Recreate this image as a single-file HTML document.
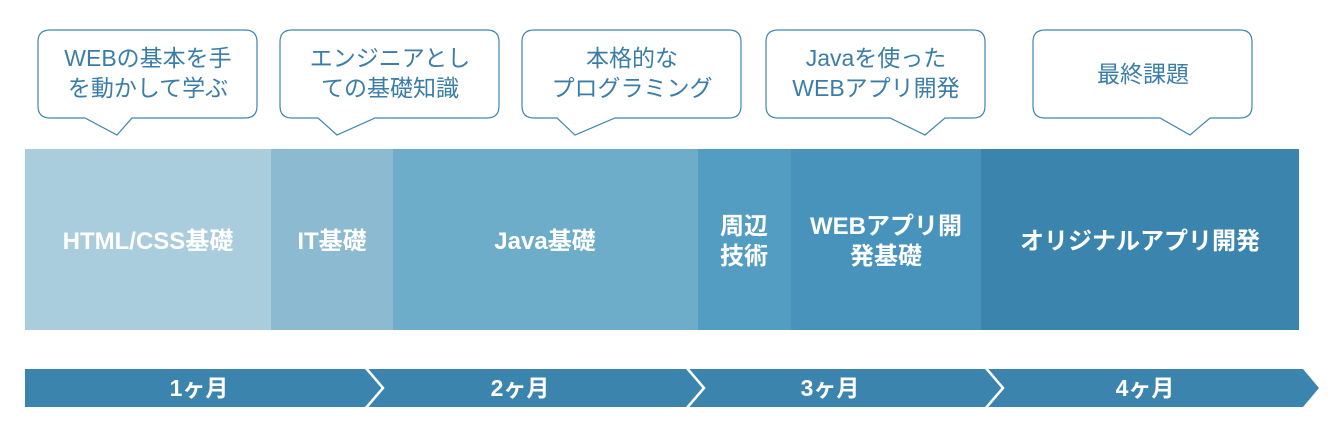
<!DOCTYPE html>
<html><head><meta charset="utf-8"><style>
body{margin:0;width:1340px;height:434px;background:#fff;overflow:hidden;font-family:"Liberation Sans","Noto Sans CJK JP",sans-serif;}
</style></head><body>
<svg width="1340" height="434" xmlns="http://www.w3.org/2000/svg" style="position:absolute;left:0;top:0">
<g fill="#fff" stroke="#3d86b0" stroke-width="1.2">
<path d="M50 30 H245 Q257 30 257 42 V106 Q257 118 245 118 H132 L117 135 L85 118 H50 Q38 118 38 106 V42 Q38 30 50 30 Z"/>
<path d="M292 30 H487 Q499 30 499 42 V106 Q499 118 487 118 H375 L337 135 L318 118 H292 Q280 118 280 106 V42 Q280 30 292 30 Z"/>
<path d="M534 30 H729 Q741 30 741 42 V106 Q741 118 729 118 H615 L575 135 L557 118 H534 Q522 118 522 106 V42 Q522 30 534 30 Z"/>
<path d="M778 30 H973 Q985 30 985 42 V106 Q985 118 973 118 H945 L925 135 L890 118 H778 Q766 118 766 106 V42 Q766 30 778 30 Z"/>
<path d="M1045 30 H1240 Q1252 30 1252 42 V106 Q1252 118 1240 118 H1210 L1190 135 L1160 118 H1045 Q1033 118 1033 106 V42 Q1033 30 1045 30 Z"/>
</g>
<g fill="#3a7ea8" font-size="23" text-anchor="middle">
<text x="148" y="66">WEBの基本を手</text><text x="148" y="96">を動かして学ぶ</text>
<text x="390" y="66">エンジニアとし</text><text x="390" y="96">ての基礎知識</text>
<text x="632" y="66">本格的な</text><text x="632" y="96">プログラミング</text>
<text x="876" y="66">Javaを使った</text><text x="876" y="96">WEBアプリ開発</text>
<text x="1143" y="82">最終課題</text>
</g>
<rect x="25" y="149" width="246" height="181" fill="#a9cddc"/>
<rect x="271" y="149" width="122" height="181" fill="#8bbad1"/>
<rect x="393" y="149" width="305" height="181" fill="#6eadc9"/>
<rect x="698" y="149" width="93" height="181" fill="#549dc2"/>
<rect x="791" y="149" width="190" height="181" fill="#4793bb"/>
<rect x="981" y="149" width="318" height="181" fill="#3b84ae"/>
<g fill="#fff" font-size="24" font-weight="bold" text-anchor="middle">
<text x="148" y="249">HTML/CSS基礎</text>
<text x="332" y="249">IT基礎</text>
<text x="545" y="249">Java基礎</text>
<text x="744" y="234">周辺</text><text x="744" y="264">技術</text>
<text x="886" y="234">WEBアプリ開</text><text x="886" y="264">発基礎</text>
<text x="1140" y="249">オリジナルアプリ開発</text>
</g>
<path d="M25 369 H1303 L1319 388 L1303 407 H25 Z" fill="#3b84ae"/>
<g fill="none" stroke="#fff" stroke-width="2.5">
<path d="M365 367 L383 388 L365 409"/>
<path d="M686 367 L704 388 L686 409"/>
<path d="M985 367 L1003 388 L985 409"/>
</g>
<g fill="#fff" font-size="23" font-weight="bold" text-anchor="middle">
<text x="199" y="396">1ヶ月</text>
<text x="520" y="396">2ヶ月</text>
<text x="830" y="396">3ヶ月</text>
<text x="1145" y="396">4ヶ月</text>
</g>
</svg>
</body></html>
